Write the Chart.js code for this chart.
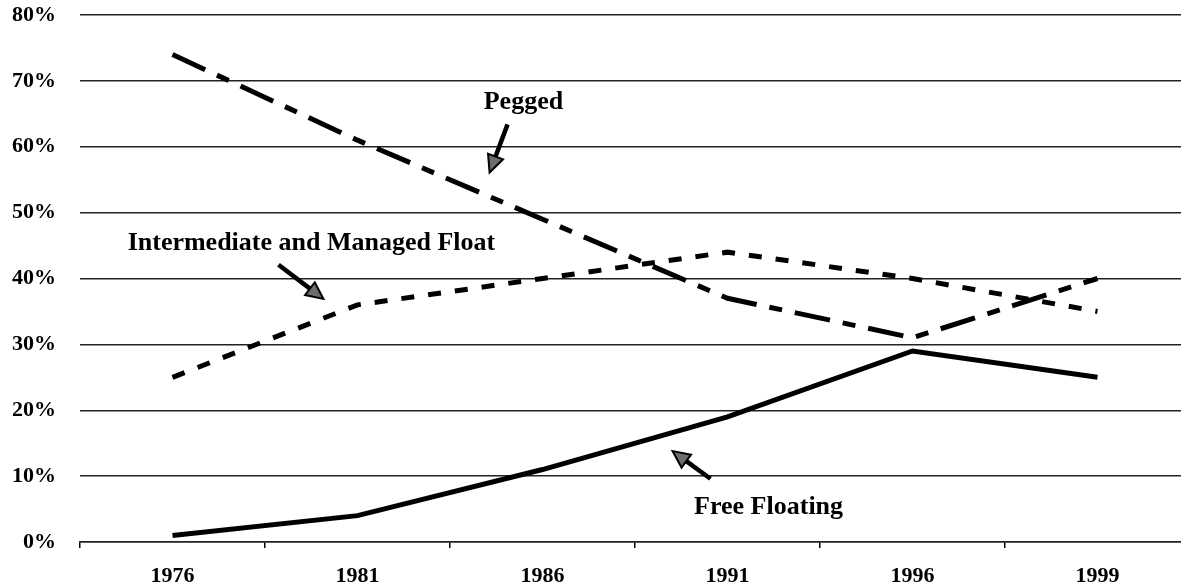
<!DOCTYPE html>
<html>
<head>
<meta charset="utf-8">
<script src="https://cdn.jsdelivr.net/npm/chart.js@4/dist/chart.umd.min.js"></script>
<style>
  html, body { margin:0; padding:0; background:#fff; overflow:hidden; }
  #wrap { width:1195px; height:588px; }
</style>
</head>
<body>
<div id="wrap"><canvas id="regimes" width="1195" height="588"></canvas></div>
<script>
// data (share of countries, %)
var years = ["1976", "1981", "1986", "1991", "1996", "1999"];
var pegged = [74, 61, 49, 37, 31, 40];
var intermediate = [25, 36, 40, 44, 40, 35];
var freeFloating = [1, 4, 11, 19, 29, 25];
var yTicks = [0, 10, 20, 30, 40, 50, 60, 70, 80];

// annotation texts and arrows, in data space (category index, %)
var noteTexts = ["Pegged", "Intermediate and Managed Float", "Free Floating"];
var noteAt = [[1.897, 66.7], [0.751, 45.4], [3.222, 5.2]];
var arrowFrom = [[1.811, 63.4], [0.573, 42.1], [2.908, 9.6]];
var arrowTo = [[1.714, 56.1], [0.816, 36.9], [2.703, 13.8]];

var FONT = "'Liberation Serif', 'Times New Roman', serif";

//********************************************** */
function drawArrow(ctx, x1, y1, x2, y2){
    var ang = Math.atan2(y2 - y1, x2 - x1);
    var headLen = 17, headW = 8;
    var bx = x2 - headLen * Math.cos(ang), by = y2 - headLen * Math.sin(ang);
    ctx.beginPath();
    ctx.moveTo(x1, y1);
    ctx.lineTo(bx, by);
    ctx.lineWidth = 4.5;
    ctx.strokeStyle = "#000";
    ctx.lineCap = "butt";
    ctx.stroke();
    ctx.beginPath();
    ctx.moveTo(x2, y2);
    ctx.lineTo(bx + headW * Math.sin(ang), by - headW * Math.cos(ang));
    ctx.lineTo(bx - headW * Math.sin(ang), by + headW * Math.cos(ang));
    ctx.closePath();
    ctx.fillStyle = "#6d6d6d";
    ctx.fill();
    ctx.lineWidth = 2;
    ctx.lineJoin = "miter";
    ctx.stroke();
}

var notesPlugin = {
    id: "notes",
    afterDatasetsDraw: function(chart){
        var ctx = chart.ctx, xs = chart.scales.x, ys = chart.scales.y;
        ctx.save();
        ctx.font = "bold 26px " + FONT;
        ctx.textAlign = "center";
        ctx.textBaseline = "middle";
        for(var i = 0; i < noteTexts.length; i++){
            ctx.fillStyle = "#000";
            ctx.fillText(noteTexts[i], xs.getPixelForValue(noteAt[i][0]), ys.getPixelForValue(noteAt[i][1]));
            drawArrow(ctx,
                xs.getPixelForValue(arrowFrom[i][0]), ys.getPixelForValue(arrowFrom[i][1]),
                xs.getPixelForValue(arrowTo[i][0]), ys.getPixelForValue(arrowTo[i][1]));
        }
        ctx.restore();
    }
};

new Chart("regimes", {
    type: "line",
    data: {
        labels: years,
        datasets: [
            { label: "Pegged", data: pegged, borderColor: "#000", borderWidth: 5,
              borderDash: [36, 13, 13, 13], pointRadius: 0, tension: 0 },
            { label: "Intermediate and Managed Float", data: intermediate, borderColor: "#000", borderWidth: 5,
              borderDash: [13, 14], pointRadius: 0, tension: 0 },
            { label: "Free Floating", data: freeFloating, borderColor: "#000", borderWidth: 5,
              pointRadius: 0, tension: 0 },
        ],
    },
    options: {
        responsive: false,
        animation: false,
        layout: { padding: { top: 15, right: 5, left: 0, bottom: 0 } },
        plugins: { legend: { display: false }, tooltip: { enabled: false } },
        scales: {
            x: {
                offset: true,
                grid: { offset: true, drawOnChartArea: false, drawTicks: true, tickLength: 6, color: "#000", lineWidth: 1.5 },
                border: { display: true, color: "#222", width: 1.5 },
                ticks: { color: "#000", padding: 15, maxRotation: 0, font: { family: FONT, size: 22, weight: "bold" } },
                afterFit: function(s){ s.height = 46; },
            },
            y: {
                min: 0, max: 80,
                afterBuildTicks: function(s){ s.ticks = yTicks.map(function(v){ return { value: v }; }); },
                grid: { drawTicks: true, tickLength: 24, tickColor: "rgba(0,0,0,0)", color: "#222", lineWidth: 1.5 },
                border: { display: false },
                ticks: { color: "#000", padding: 0, callback: function(v){ return v + "%"; },
                         font: { family: FONT, size: 22, weight: "bold" } },
                afterFit: function(s){ s.width = 80; },
            },
        },
    },
    plugins: [notesPlugin],
});
</script>
</body>
</html>
